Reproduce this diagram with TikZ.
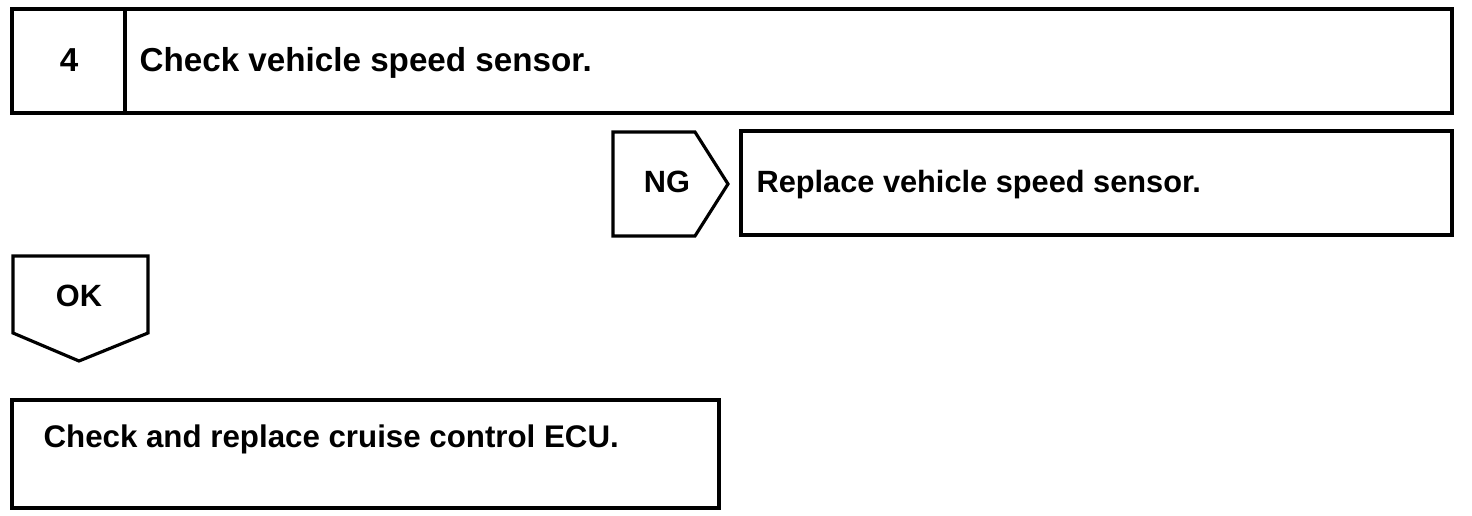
\documentclass[tikz,border=0pt]{standalone}
\usepackage{fontspec}
\setmainfont{Liberation Sans}
\begin{document}
\begin{tikzpicture}[x=0.02cm,y=-0.02cm,line width=1.8pt,line join=miter]
  \tikzset{lbl/.style={font=\bfseries\fontsize{17.5}{20}\selectfont, inner sep=0pt, anchor=base west},
           lblc/.style={lbl, anchor=base}}
  \useasboundingbox (0,0) rectangle (1472,516);
  % step 4
  \draw (12,9) rectangle (1452,113);
  \draw (125,9) -- (125,113);
  \node[lblc, font=\bfseries\fontsize{18.9}{21}\selectfont] (num) at (69,72) {4};
  \node[lbl, font=\bfseries\fontsize{18.9}{21}\selectfont] (chk) at (138,72) {Check vehicle speed sensor.};
  % NG branch
  \draw (613,132) -- (695,132) -- (728,184) -- (695,236) -- (613,236) -- cycle;
  \node[lblc] (ng) at (667,193) {NG};
  \draw (741,131) rectangle (1452,235);
  \node[lbl] (rep) at (755,193) {Replace vehicle speed sensor.};
  % OK branch
  \draw (13,256) -- (148,256) -- (148,333) -- (79,361) -- (13,333) -- cycle;
  \node[lblc] (ok) at (79,307) {OK};
  \draw (12,400) rectangle (719,508);
  \node[lbl, font=\bfseries\fontsize{17.8}{20}\selectfont] (ecu) at (42,448) {Check and replace cruise control ECU.};
\end{tikzpicture}
\end{document}
